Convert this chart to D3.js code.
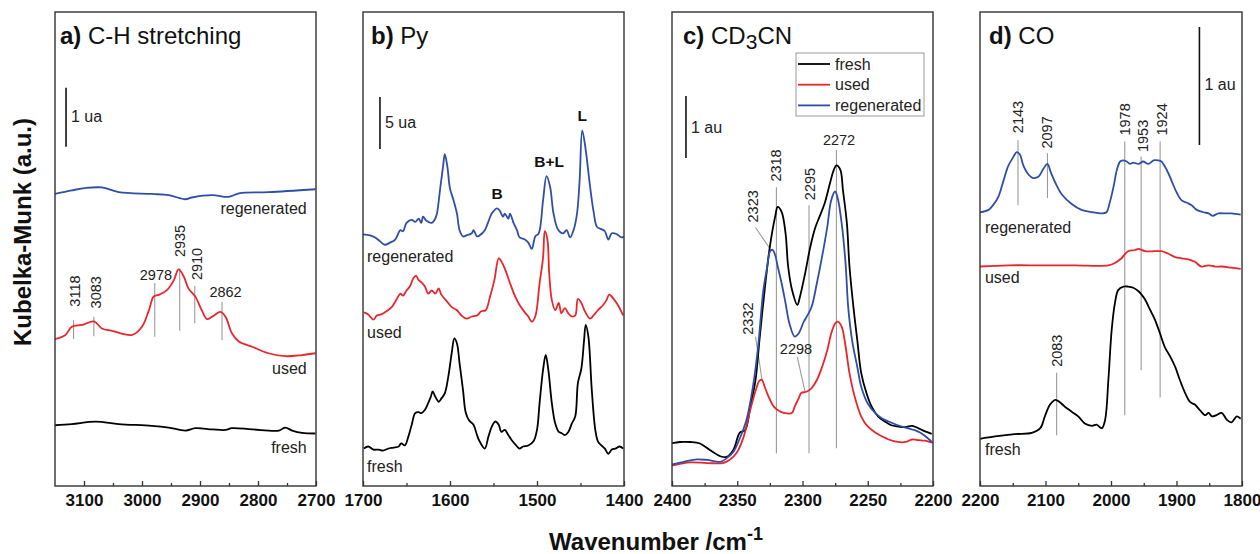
<!DOCTYPE html>
<html><head><meta charset="utf-8">
<script src="https://cdn.jsdelivr.net/npm/d3@7"></script>
<style>
body{margin:0;background:#fff}
svg{display:block}
text{font-family:Arial,"Liberation Sans",sans-serif}
</style>
</head><body>
<svg id="chart" width="1260" height="554"></svg>
<script>
// ---------------- DATA (wavenumber cm-1, Kubelka-Munk a.u.) ----------------
const chRegenerated = [[3150,4.95],[3121,5.01],[3098,5.05],[3069,5.06],[3040,4.98],[2983,4.95],[2954,4.93],[2925,4.86],[2914,4.89],[2879,4.93],[2851,4.90],[2833,4.96],[2782,4.98],[2701,5.03]];
const chUsed = [[3150,2.49],[3132,2.56],[3121,2.70],[3103,2.73],[3083,2.79],[3069,2.67],[3052,2.63],[3017,2.56],[3000,2.70],[2988,2.98],[2980,3.21],[2971,3.24],[2957,3.32],[2945,3.49],[2937,3.67],[2928,3.55],[2920,3.35],[2908,3.21],[2897,2.98],[2888,2.83],[2879,2.87],[2865,2.95],[2856,2.87],[2845,2.59],[2833,2.45],[2810,2.36],[2782,2.25],[2753,2.20],[2724,2.22],[2701,2.25]];
const chFresh = [[3150,1.03],[3121,1.05],[3080,1.09],[3040,1.05],[2983,1.02],[2954,0.99],[2925,0.94],[2908,0.98],[2879,0.96],[2856,0.95],[2845,0.98],[2810,0.96],[2764,0.94],[2753,0.99],[2741,0.94],[2724,0.90],[2701,0.89]];

const pyRegenerated = [[1700,24.2],[1692,24.1],[1686,23.9],[1680,23.5],[1675,23.2],[1669,23.4],[1663,23.7],[1657,24.6],[1654,24.5],[1650,25.3],[1644,25.6],[1640,25.4],[1636,25.7],[1633,25.3],[1631,25.9],[1627,25.5],[1621,25.3],[1617,25.7],[1615,26.2],[1611,28.8],[1608,30.7],[1606,31.9],[1603,30.7],[1600,28.6],[1596,27.5],[1592,26.2],[1589,24.6],[1585,24.0],[1581,24.1],[1575,24.3],[1573,24.6],[1569,24.0],[1566,24.1],[1560,24.6],[1556,25.4],[1552,26.2],[1546,26.7],[1543,26.5],[1539,25.9],[1537,26.2],[1533,25.7],[1531,26.2],[1527,25.3],[1523,24.6],[1520,23.9],[1514,23.7],[1510,23.4],[1506,22.8],[1502,24.0],[1498,24.3],[1493,27.5],[1489,29.8],[1485,28.8],[1481,26.2],[1476,24.7],[1470,24.3],[1466,24.6],[1462,23.9],[1458,24.6],[1454,26.2],[1451,29.4],[1448,34.2],[1444,32.3],[1439,28.8],[1435,26.4],[1431,24.9],[1426,24.7],[1422,24.5],[1418,23.7],[1414,24.3],[1408,24.2],[1403,23.9],[1400,24.0]];
const pyUsed = [[1699,16.7],[1694,16.5],[1688,16.0],[1684,16.4],[1679,16.5],[1673,16.8],[1667,17.2],[1661,18.0],[1657,18.5],[1654,18.3],[1650,18.8],[1646,19.2],[1642,20.0],[1639,20.2],[1636,19.8],[1633,19.6],[1629,19.2],[1625,18.5],[1621,18.8],[1617,18.5],[1613,19.0],[1610,18.4],[1604,17.8],[1598,17.2],[1592,16.9],[1587,16.4],[1581,16.1],[1575,16.3],[1569,16.4],[1564,16.8],[1559,16.9],[1554,18.2],[1549,19.8],[1544,21.9],[1541,21.6],[1537,20.9],[1531,19.5],[1525,18.2],[1520,17.4],[1514,16.7],[1510,16.3],[1506,15.8],[1502,16.3],[1497,19.5],[1493,22.0],[1491,24.5],[1488,23.7],[1486,20.5],[1483,17.9],[1479,16.9],[1475,17.6],[1472,16.6],[1468,17.1],[1464,16.6],[1460,16.3],[1456,16.4],[1453,18.0],[1449,17.6],[1445,16.8],[1439,16.1],[1435,16.4],[1430,16.9],[1424,17.4],[1420,17.9],[1417,18.4],[1412,18.0],[1407,17.4],[1401,16.4]];
const pyFresh = [[1699,3.6],[1694,3.8],[1688,3.5],[1682,3.5],[1677,3.4],[1671,3.6],[1665,3.7],[1659,3.8],[1656,4.1],[1652,3.9],[1648,4.7],[1644,5.9],[1640,7.0],[1636,7.1],[1633,7.0],[1629,7.3],[1625,8.0],[1622,8.6],[1620,9.1],[1617,8.6],[1613,8.1],[1610,8.4],[1606,8.9],[1602,10.5],[1598,12.8],[1595,14.2],[1592,13.7],[1589,11.8],[1585,9.2],[1582,7.1],[1578,6.3],[1573,5.9],[1569,4.9],[1566,4.3],[1560,3.6],[1556,4.7],[1552,5.7],[1548,6.2],[1544,5.9],[1541,5.2],[1537,5.4],[1533,4.9],[1529,4.4],[1525,4.0],[1520,3.6],[1516,3.8],[1510,3.9],[1504,4.3],[1500,5.4],[1497,8.0],[1493,11.2],[1490,12.6],[1487,11.2],[1483,8.0],[1479,6.0],[1475,5.2],[1472,5.1],[1468,4.9],[1464,5.2],[1460,6.0],[1456,6.7],[1453,9.9],[1449,11.3],[1446,13.9],[1444,15.5],[1441,14.4],[1437,9.2],[1433,5.4],[1430,4.3],[1426,3.9],[1422,3.6],[1418,3.1],[1414,3.5],[1410,3.6],[1405,3.8],[1401,3.6]];

const cdFresh = [[2400,0.69],[2394,0.71],[2386,0.71],[2379,0.69],[2371,0.58],[2363,0.48],[2358,0.47],[2353,0.58],[2348,0.86],[2344,0.90],[2340,1.28],[2336,1.71],[2333,2.35],[2329,3.16],[2325,3.86],[2321,4.34],[2319,4.50],[2316,4.42],[2313,4.08],[2311,3.54],[2308,3.16],[2304,2.92],[2302,3.05],[2298,3.43],[2294,3.86],[2290,4.18],[2287,4.34],[2283,4.56],[2279,4.88],[2276,5.10],[2274,5.17],[2271,5.10],[2269,4.77],[2266,4.24],[2264,3.54],[2261,2.89],[2258,2.35],[2255,1.82],[2251,1.50],[2247,1.28],[2242,1.12],[2237,1.04],[2232,0.98],[2227,0.96],[2221,0.95],[2216,0.97],[2211,0.93],[2206,0.88],[2201,0.84]];
const cdUsed = [[2400,0.33],[2386,0.38],[2373,0.37],[2361,0.37],[2356,0.42],[2350,0.55],[2345,0.80],[2340,1.23],[2335,1.60],[2333,1.70],[2331,1.71],[2329,1.60],[2326,1.44],[2322,1.28],[2317,1.20],[2312,1.17],[2308,1.18],[2306,1.28],[2303,1.41],[2301,1.50],[2297,1.52],[2293,1.58],[2289,1.71],[2285,1.92],[2281,2.19],[2278,2.46],[2275,2.62],[2273,2.65],[2270,2.57],[2267,2.25],[2264,1.82],[2260,1.44],[2255,1.12],[2250,0.96],[2244,0.86],[2239,0.80],[2234,0.75],[2227,0.71],[2221,0.71],[2216,0.75],[2211,0.74],[2206,0.73],[2201,0.70]];
const cdRegenerated = [[2400,0.35],[2391,0.39],[2381,0.43],[2373,0.42],[2363,0.39],[2358,0.45],[2353,0.55],[2348,0.77],[2343,1.06],[2338,1.60],[2334,2.25],[2330,3.16],[2327,3.54],[2325,3.78],[2323,3.81],[2321,3.73],[2319,3.54],[2316,3.27],[2313,2.95],[2310,2.62],[2306,2.41],[2303,2.46],[2299,2.65],[2296,2.76],[2293,2.89],[2289,3.27],[2285,3.70],[2281,4.18],[2278,4.61],[2275,4.75],[2273,4.64],[2270,4.24],[2267,3.59],[2265,2.89],[2262,2.35],[2258,1.92],[2255,1.60],[2250,1.33],[2244,1.17],[2239,1.09],[2234,1.04],[2227,0.98],[2219,0.93],[2214,0.90],[2209,0.85],[2204,0.77],[2200,0.69]];

const coRegenerated = [[2200,2.32],[2187,2.34],[2180,2.38],[2172,2.45],[2164,2.59],[2157,2.71],[2149,2.79],[2144,2.83],[2139,2.81],[2134,2.72],[2126,2.64],[2119,2.61],[2111,2.62],[2103,2.69],[2097,2.73],[2092,2.66],[2085,2.57],[2075,2.47],[2060,2.39],[2045,2.34],[2029,2.32],[2014,2.31],[2007,2.32],[2002,2.40],[1996,2.54],[1991,2.68],[1986,2.75],[1981,2.76],[1976,2.75],[1971,2.73],[1966,2.74],[1958,2.73],[1951,2.75],[1943,2.73],[1935,2.76],[1928,2.76],[1923,2.75],[1915,2.68],[1907,2.58],[1900,2.49],[1892,2.42],[1884,2.40],[1877,2.38],[1869,2.34],[1859,2.32],[1851,2.31],[1845,2.29],[1836,2.31],[1826,2.31],[1816,2.31],[1802,2.30]];
const coUsed = [[2200,1.86],[2157,1.87],[2106,1.87],[2055,1.87],[2004,1.87],[1994,1.89],[1984,1.93],[1974,1.99],[1963,2.00],[1958,2.01],[1948,1.99],[1933,1.99],[1923,1.99],[1913,1.97],[1902,1.94],[1892,1.93],[1882,1.92],[1872,1.90],[1862,1.86],[1851,1.87],[1841,1.86],[1831,1.86],[1816,1.85],[1802,1.84]];
const coFresh = [[2200,0.40],[2177,0.42],[2147,0.44],[2121,0.45],[2108,0.49],[2101,0.59],[2093,0.69],[2085,0.73],[2078,0.71],[2070,0.67],[2060,0.63],[2050,0.59],[2040,0.53],[2029,0.51],[2022,0.52],[2014,0.49],[2009,0.56],[2004,0.90],[1999,1.32],[1994,1.55],[1989,1.66],[1981,1.69],[1974,1.69],[1966,1.68],[1958,1.65],[1953,1.62],[1948,1.58],[1940,1.49],[1933,1.41],[1925,1.29],[1918,1.18],[1910,1.10],[1902,1.01],[1895,0.90],[1887,0.79],[1879,0.71],[1872,0.69],[1864,0.64],[1856,0.60],[1851,0.62],[1846,0.59],[1839,0.60],[1831,0.62],[1823,0.56],[1816,0.54],[1808,0.59],[1802,0.57]];

// tick labels
const chTicks = [3100,3000,2900,2800,2700];
const pyTicks = [1700,1600,1500,1400];
const cdTicks = [2400,2350,2300,2250,2200];
const coTicks = [2200,2100,2000,1900,1800];
const chMinor = [3050,2950,2850,2750];
const pyMinor = [1650,1550,1450];
const cdMinor = [2375,2325,2275,2225];
const coMinor = [2150,2050,1950,1850];

// peak annotations: text, line from (x1,y1) to (x2,y2), label at (lx,ly), rotated?
const chPeaks = [
  {t:'3118',x1:3118,y1:2.81,x2:3118,y2:2.49,lx:3116,ly:3.04,rot:1},
  {t:'3083',x1:3083,y1:2.87,x2:3083,y2:2.54,lx:3080,ly:3.01,rot:1},
  {t:'2978',x1:2978,y1:3.44,x2:2978,y2:2.53,lx:2976,ly:3.49,rot:0},
  {t:'2935',x1:2935,y1:3.69,x2:2935,y2:2.63,lx:2934,ly:3.88,rot:1},
  {t:'2910',x1:2909,y1:3.39,x2:2909,y2:2.76,lx:2905,ly:3.49,rot:1},
  {t:'2862',x1:2862,y1:3.12,x2:2862,y2:2.47,lx:2856,ly:3.20,rot:0}
];
const pyBands = [{t:'B',lx:1546,ly:27.6},{t:'B+L',lx:1486,ly:30.7},{t:'L',lx:1448,ly:35.1}];
const cdPeaks = [
  {t:'2272',x1:2274,y1:5.42,x2:2274,y2:0.61,lx:2272,ly:5.5,rot:0},
  {t:'2318',x1:2320,y1:4.82,x2:2320,y2:0.53,lx:2320,ly:4.91,rot:1},
  {t:'2295',x1:2295,y1:4.53,x2:2295,y2:0.53,lx:2294,ly:4.61,rot:1},
  {t:'2323',x1:2336,y1:4.17,x2:2325,y2:3.83,lx:2338,ly:4.25,rot:1},
  {t:'2332',x1:2336,y1:2.41,x2:2331,y2:1.71,lx:2342,ly:2.44,rot:1},
  {t:'2298',x1:2304,y1:2.08,x2:2298,y2:1.52,lx:2305,ly:2.13,rot:0}
];
const coPeaks = [
  {t:'2143',x1:2142,y1:2.93,x2:2142,y2:2.38,lx:2142,ly:2.99,rot:1},
  {t:'2097',x1:2097,y1:2.82,x2:2097,y2:2.44,lx:2097,ly:2.86,rot:1},
  {t:'1978',x1:1979,y1:2.92,x2:1979,y2:0.60,lx:1978,ly:2.97,rot:1},
  {t:'1953',x1:1954,y1:2.79,x2:1954,y2:0.98,lx:1951,ly:2.83,rot:1},
  {t:'1924',x1:1925,y1:2.92,x2:1925,y2:0.75,lx:1922,ly:2.97,rot:1},
  {t:'2083',x1:2083,y1:0.96,x2:2083,y2:0.43,lx:2083,ly:1.01,rot:1}
];
const seriesNames = ['fresh','used','regenerated'];
// ---------------- LAYOUT ----------------
const colors = {fresh:'#000000', used:'#e8262b', regenerated:'#2f4ea6'};
const svg = d3.select('#chart');
const TOP = 12, BOTTOM = 486;

const panels = [
  {left:55,right:316,dom:[3150,2700],ymax:8.034,ticks:chTicks,minor:chMinor,
   series:{fresh:chFresh,used:chUsed,regenerated:chRegenerated},
   peaks:chPeaks, titleB:'a)', title:' C-H stretching', tdx:5,
   bar:{x:3131,y0:5.75,y1:6.75,t:'1 ua',ty:6.17},
   labels:{anchor:'end',x:2716,regenerated:4.61,used:1.90,fresh:0.56}},
  {left:363,right:624,dom:[1700,1400],ymax:45.58,ticks:pyTicks,minor:pyMinor,
   series:{fresh:pyFresh,used:pyUsed,regenerated:pyRegenerated},
   peaks:[], bands:pyBands, titleB:'b)', title:' Py', tdx:8,
   bar:{x:1680.5,y0:32.4,y1:37.4,t:'5 ua',ty:34.4},
   labels:{anchor:'start',x:1695.4,regenerated:21.5,used:14.2,fresh:1.35}},
  {left:672,right:933,dom:[2400,2200],ymax:7.645,ticks:cdTicks,minor:cdMinor,
   series:{fresh:cdFresh,used:cdUsed,regenerated:cdRegenerated},
   peaks:cdPeaks, titleB:'c)', title:'cd', tdx:11,
   bar:{x:2389.3,y0:5.29,y1:6.29,t:'1 au',ty:5.69}, legend:true},
  {left:980,right:1242,dom:[2200,1800],ymax:4.017,ticks:coTicks,minor:coMinor,
   series:{fresh:coFresh,used:coUsed,regenerated:coRegenerated},
   peaks:coPeaks, titleB:'d)', title:' CO', tdx:9,
   bar:{x:1865,y0:2.89,y1:3.89,t:'1 au',ty:3.36},
   labels:{anchor:'start',x:2192.4,regenerated:2.14,used:1.72,fresh:0.26}}
];

const defs = svg.append('defs');

panels.forEach((p,i)=>{
  const x = d3.scaleLinear().domain(p.dom).range([p.left,p.right]);
  const y = d3.scaleLinear().domain([0,p.ymax]).range([BOTTOM,TOP]);
  const g = svg.append('g');
  defs.append('clipPath').attr('id','clip'+i).append('rect')
    .attr('x',p.left).attr('y',TOP).attr('width',p.right-p.left).attr('height',BOTTOM-TOP);

  // peak lines (behind curves)
  const ann = g.append('g');
  p.peaks.forEach(a=>{
    ann.append('line').attr('x1',x(a.x1)).attr('y1',y(a.y1)).attr('x2',x(a.x2)).attr('y2',y(a.y2))
      .attr('stroke','#9a9a9a').attr('stroke-width',1.1);
  });

  // curves
  const line = d3.line().x(d=>x(d[0])).y(d=>y(d[1])).curve(d3.curveCatmullRom.alpha(0.5));
  const cg = g.append('g').attr('clip-path','url(#clip'+i+')');
  ['fresh','used','regenerated'].forEach(k=>{
    cg.append('path').datum(p.series[k]).attr('d',line).attr('fill','none')
      .attr('stroke',colors[k]).attr('stroke-width',1.8).attr('stroke-linejoin','round');
  });

  // peak labels
  p.peaks.forEach(a=>{
    const t = ann.append('text').attr('font-size',14.5).attr('fill','#222').text(a.t);
    if(a.rot){
      t.attr('transform',`translate(${x(a.lx)+5},${y(a.ly)}) rotate(-90)`).attr('text-anchor','start');
    } else {
      t.attr('x',x(a.lx)).attr('y',y(a.ly)).attr('text-anchor','middle');
    }
  });
  if(p.bands){
    p.bands.forEach(b=>{
      g.append('text').attr('x',x(b.lx)).attr('y',y(b.ly)).attr('text-anchor','middle')
        .attr('font-size',15.5).attr('font-weight','bold').attr('fill','#111').text(b.t);
    });
  }

  // series labels
  if(p.labels){
    seriesNames.forEach(k=>{
      g.append('text').attr('x',x(p.labels.x)).attr('y',y(p.labels[k])).attr('text-anchor',p.labels.anchor)
        .attr('font-size',16).attr('fill','#222').text(k);
    });
  }

  // scale bar
  g.append('line').attr('x1',x(p.bar.x)).attr('x2',x(p.bar.x)).attr('y1',y(p.bar.y0)).attr('y2',y(p.bar.y1))
    .attr('stroke','#111').attr('stroke-width',1.6);
  g.append('text').attr('x',x(p.bar.x)+5).attr('y',y(p.bar.ty)).attr('font-size',16).attr('fill','#222').text(p.bar.t);

  // frame
  g.append('rect').attr('x',p.left).attr('y',TOP).attr('width',p.right-p.left).attr('height',BOTTOM-TOP)
    .attr('fill','none').attr('stroke','#333').attr('stroke-width',1.4);

  // axis
  const ax = d3.axisBottom(x).tickValues(p.ticks).tickFormat(d3.format('d')).tickSize(-5).tickPadding(8);
  const axg = g.append('g').attr('transform',`translate(0,${BOTTOM})`).call(ax);
  axg.select('.domain').remove();
  axg.selectAll('line').attr('stroke','#333').attr('stroke-width',1.3);
  axg.selectAll('text').attr('font-size',17).attr('font-weight','bold').attr('fill','#111')
    .attr('font-family','Arial, "Liberation Sans", sans-serif');
  const axm = d3.axisBottom(x).tickValues(p.minor).tickFormat('').tickSize(-3);
  const amg = g.append('g').attr('transform',`translate(0,${BOTTOM})`).call(axm);
  amg.select('.domain').remove();
  amg.selectAll('line').attr('stroke','#333').attr('stroke-width',1.3);

  // title
  const tt = g.append('text').attr('x',p.left+p.tdx).attr('y',44).attr('font-size',24).attr('fill','#111');
  tt.append('tspan').attr('font-weight','bold').text(p.titleB);
  if(p.title==='cd'){
    tt.append('tspan').text(' CD');
    tt.append('tspan').attr('font-size',21).attr('dy',5).text('3');
    tt.append('tspan').attr('dy',-5).text('CN');
  } else tt.append('tspan').text(p.title);

  // legend
  if(p.legend){
    const lg = g.append('g');
    lg.append('rect').attr('x',796).attr('y',53).attr('width',128).attr('height',63)
      .attr('fill','#fff').attr('stroke','#999').attr('stroke-width',1);
    seriesNames.forEach((k,j)=>{
      const yy = 64 + j*20.7;
      lg.append('line').attr('x1',798).attr('x2',830).attr('y1',yy).attr('y2',yy)
        .attr('stroke',colors[k]).attr('stroke-width',1.8);
      lg.append('text').attr('x',835).attr('y',yy).attr('dy','0.35em').attr('font-size',16).attr('fill','#222').text(k);
    });
  }
});

// axis titles
const xt = svg.append('text').attr('x',656).attr('y',550).attr('text-anchor','middle')
  .attr('font-size',24).attr('font-weight','bold').attr('fill','#111');
xt.append('tspan').text('Wavenumber /cm');
xt.append('tspan').attr('font-size',18).attr('dy',-10).text('-1');

svg.append('text').attr('transform','translate(31,232) rotate(-90)').attr('text-anchor','middle')
  .attr('font-size',24).attr('font-weight','bold').attr('fill','#111').text('Kubelka-Munk (a.u.)');
</script>
</body></html>
